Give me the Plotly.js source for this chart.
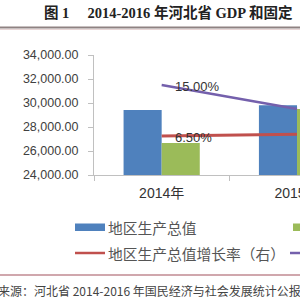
<!DOCTYPE html>
<html>
<head>
<meta charset="utf-8">
<script src="https://cdn.plot.ly/plotly-3.0.1.min.js"></script>
<style>
html,body{margin:0;padding:0;background:#fff;overflow:hidden;}
#chart{width:300px;height:300px;}
</style>
</head>
<body>
<div id="chart"></div>
<script>
// ---- data ----
const categories = ["2014年", "2015年"];
const gdpValues = [29421.2, 29806.1];            // 地区生产总值
const investValues = [26671.9, 29500];           // 固定资产投资 (green)
const gdpGrowth = [6.5, 6.8];                    // 地区生产总值增长率（右）
const investGrowth = [15.0, 11.0];               // 固定资产投资增长率（右）
const yTickVals = [24000, 26000, 28000, 30000, 32000, 34000];

const titleText = "图 1 　2014-2016 年河北省 GDP 和固定";
const sourceText = "来源：河北省 2014-2016 年国民经济与社会发展统计公报";
const legendNames = ["地区生产总值", "地区生产总值增长率（右）"];

// ---- layout helpers (pixel -> paper) ----
const ML = 94, MR = 0, MT = 55, MB = 125, W = 300, H = 300;
const PW = W - ML - MR, PH = H - MT - MB;
const px = x => (x - ML) / PW;
const py = y => (MT + PH - y) / PH;

const blue = "#4F81BD", green = "#9BBB59", red = "#C0504D", purple = "#7460AC";
const cjk = "Liberation Sans, Noto Sans CJK SC";

const traces = [
  {type: "bar", x: categories, y: gdpValues, name: legendNames[0],
   marker: {color: blue}, showlegend: false, hoverinfo: "none"},
  {type: "bar", x: categories, y: investValues, name: "固定资产投资",
   marker: {color: green}, showlegend: false, hoverinfo: "none"},
  {type: "scatter", mode: "lines", x: categories, y: gdpGrowth, yaxis: "y2",
   name: legendNames[1], line: {color: red, width: 3}, showlegend: false, hoverinfo: "none"},
  {type: "scatter", mode: "lines", x: categories, y: investGrowth, yaxis: "y2",
   name: "固定资产投资增长率（右）", line: {color: purple, width: 2.5}, showlegend: false, hoverinfo: "none"}
];

const annotations = [];
// data labels for the growth lines (only the first category's labels fall inside the view)
[gdpGrowth, investGrowth].forEach(arr => {
  const v = arr[0];
  annotations.push({x: categories[0], y: v, xref: "x", yref: "y2",
    text: v.toFixed(2) + "%", showarrow: false, xanchor: "left", yanchor: "middle",
    xshift: 11, yshift: -1, font: {family: "Liberation Sans", size: 13, color: "#333"}});
});
// title
annotations.push({xref: "paper", yref: "paper", x: px(42), y: py(13), xanchor: "left", yanchor: "middle",
  align: "left", text: "<b>" + titleText + "</b>", showarrow: false,
  font: {family: "Liberation Serif, Noto Sans CJK SC", size: 14.5, color: "#222"}});
// legend labels
annotations.push({xref: "paper", yref: "paper", x: px(106), y: py(227), xanchor: "left", yanchor: "middle",
  align: "left", text: legendNames[0], showarrow: false, font: {family: "Noto Sans CJK SC", size: 14.75, color: "#555"}});
annotations.push({xref: "paper", yref: "paper", x: px(106), y: py(253), xanchor: "left", yanchor: "middle",
  align: "left", text: legendNames[1], showarrow: false, font: {family: "Noto Sans CJK SC", size: 14.75, color: "#555"}});
// source
annotations.push({xref: "paper", yref: "paper", x: px(-4), y: py(290), xanchor: "left", yanchor: "middle",
  align: "left", text: sourceText, showarrow: false, font: {family: "Noto Sans CJK SC", size: 12, color: "#444"}});

const shapes = [
  // title rule
  {type: "line", xref: "paper", yref: "paper", x0: px(-5), x1: px(305), y0: py(27.5), y1: py(27.5),
   line: {color: "#8f8282", width: 2}},
  {type: "line", xref: "paper", yref: "paper", x0: px(-5), x1: px(305), y0: py(29.5), y1: py(29.5),
   line: {color: "#e8d6d6", width: 1}},
  // bottom rule
  {type: "line", xref: "paper", yref: "paper", x0: px(-5), x1: px(305), y0: py(275), y1: py(275),
   line: {color: "#c08a92", width: 1.5}},
  // legend swatches
  {type: "rect", xref: "paper", yref: "paper", x0: px(75), x1: px(105), y0: py(231), y1: py(223.5),
   fillcolor: blue, line: {width: 0}},
  {type: "rect", xref: "paper", yref: "paper", x0: px(293), x1: px(320), y0: py(231), y1: py(223.5),
   fillcolor: green, line: {width: 0}},
  {type: "line", xref: "paper", yref: "paper", x0: px(75), x1: px(105), y0: py(253), y1: py(253),
   line: {color: red, width: 2.5}},
  {type: "line", xref: "paper", yref: "paper", x0: px(290), x1: px(320), y0: py(253), y1: py(253),
   line: {color: purple, width: 2.5}}
];

const layout = {
  width: W, height: H,
  margin: {l: ML, r: MR, t: MT, b: MB, pad: 0},
  paper_bgcolor: "#fff", plot_bgcolor: "#fff",
  showlegend: false,
  barmode: "group", bargap: 0.437, bargroupgap: 0,
  xaxis: {type: "category", range: [-0.5, 1.022], showline: true, linecolor: "#c0c0c0", linewidth: 1,
    ticks: "outside", tickson: "boundaries", ticklen: 5, tickcolor: "#c0c0c0",
    showgrid: false, zeroline: false, ticklabelstandoff: 5,
    tickfont: {family: cjk, size: 14, color: "#333"}},
  yaxis: {range: [24000, 34000], tickvals: yTickVals, tickformat: ",.2f",
    showline: true, linecolor: "#c0c0c0", linewidth: 1, ticks: "outside", ticklen: 5, tickcolor: "#c0c0c0",
    showgrid: false, zeroline: false, ticklabelstandoff: 7,
    tickfont: {family: "Liberation Sans", size: 12.5, color: "#404040"}},
  yaxis2: {overlaying: "y", side: "right", range: [0, 20], showgrid: false, zeroline: false,
    showline: false, showticklabels: false, ticks: ""},
  annotations: annotations,
  shapes: shapes
};

Plotly.newPlot("chart", traces, layout, {displayModeBar: false, staticPlot: true});
</script>
</body>
</html>
